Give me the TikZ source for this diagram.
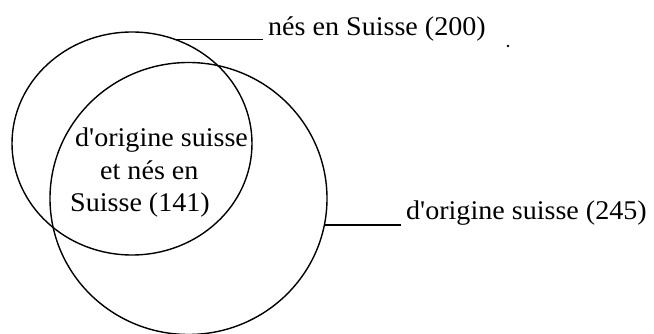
\documentclass[tikz,border=0pt]{standalone}
\usepackage{fontspec}
\setmainfont{Liberation Serif}[Ligatures=TeXOff]
\usetikzlibrary{shapes.geometric}
\newcommand{\wide}[1]{\scalebox{1.04}[1]{#1}}
\begin{document}
\begin{tikzpicture}[x=1pt,y=-1pt,
  set/.style={draw, ellipse, line width=1.4pt, inner sep=0pt, outer sep=0pt},
  lbl/.style={font=\fontsize{27}{32}\selectfont, inner xsep=5pt, inner ysep=0pt, anchor=base west},
  inner/.style={font=\fontsize{27}{32}\selectfont, inner sep=0pt, anchor=base west},
  lead/.style={line width=1.2pt}]
\useasboundingbox (0,0) rectangle (654,334);

% the two sets
\node[set, minimum width=240pt, minimum height=223pt] (nes) at (132,143.5) {};
\node[set, minimum width=277pt, minimum height=272pt] (ori) at (188.5,198.5) {};

% outer labels with their leader lines
\node[lbl] (labnes) at (263,36) {\wide{nés en Suisse (200)}};
\node[lbl] (labori) at (401,219) {\wide{d'origine suisse (245)}};
\draw[lead] (nes.67) -- (nes.67 -| labnes.west);
\draw[lead] (ori.-11) -- (ori.-11 -| labori.west);

% text of the intersection
\node[inner] (in1) at (75,147) {\wide{d'origine suisse}};
\node[inner] (in2) at (100,180) {\wide{et nés en}};
\node[inner] (in3) at (70,212) {\wide{Suisse (141)}};

% small dot
\fill (508,46) circle[radius=1.3pt];
\end{tikzpicture}
\end{document}
